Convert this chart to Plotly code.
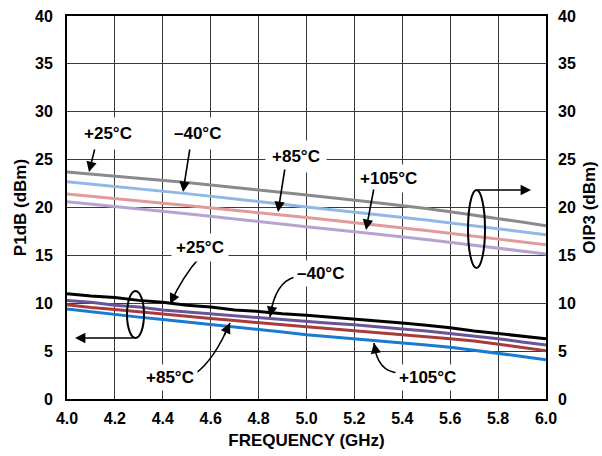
import plotly.graph_objects as go

# ---------------- data ----------------
freq_p1 = [4.0, 4.1, 4.2, 4.3, 4.4, 4.5, 4.6, 4.7, 4.8, 4.9, 5.0,
           5.1, 5.2, 5.3, 5.4, 5.5, 5.6, 5.7, 5.8, 5.9, 6.0]
p1db_25 = [11.0, 10.75, 10.6, 10.3, 10.1, 9.8, 9.6, 9.3, 9.15, 8.9, 8.75,
           8.55, 8.4, 8.15, 7.95, 7.7, 7.45, 7.1, 6.85, 6.55, 6.3]
p1db_m40 = [10.3, 10.1, 9.8, 9.6, 9.3, 9.1, 8.9, 8.65, 8.45, 8.25, 8.05,
            7.9, 7.75, 7.5, 7.3, 7.1, 6.85, 6.6, 6.3, 5.95, 5.65]
p1db_85 = [9.85, 9.55, 9.35, 9.1, 8.85, 8.65, 8.4, 8.2, 7.95, 7.75, 7.55,
           7.35, 7.15, 6.95, 6.75, 6.55, 6.3, 6.05, 5.7, 5.35, 5.05]
p1db_105 = [9.4, 9.1, 8.85, 8.55, 8.3, 8.05, 7.8, 7.55, 7.3, 7.0, 6.7,
            6.5, 6.3, 6.1, 5.9, 5.65, 5.4, 5.1, 4.8, 4.45, 4.1]

freq_ip3 = [4.0, 4.5, 5.0, 5.5, 6.0]
oip3_25 = [23.7, 22.6, 21.3, 19.9, 18.1]
oip3_m40 = [22.7, 21.45, 20.05, 18.7, 17.15]
oip3_85 = [21.4, 20.2, 18.95, 17.6, 16.1]
oip3_105 = [20.6, 19.35, 18.0, 16.65, 15.15]

x_ticks = [4.0, 4.2, 4.4, 4.6, 4.8, 5.0, 5.2, 5.4, 5.6, 5.8, 6.0]
x_ticktext = ["4.0", "4.2", "4.4", "4.6", "4.8", "5.0", "5.2", "5.4", "5.6", "5.8", "6.0"]
y_ticks = [0, 5, 10, 15, 20, 25, 30, 35, 40]

# ---------------- layout geometry (pixels) ----------------
W, H = 602, 456
PX0, PX1 = 67, 546
PY0, PY1 = 16, 399
L, R = PX0, W - PX1
T, B = PY0, H - PY1


def X(px):
    return 4.0 + (px - PX0) / (PX1 - PX0) * 2.0


def Y(py):
    return (PY1 - py) / (PY1 - PY0) * 40.0


FONT = "Liberation Sans, Arial, Helvetica, sans-serif"

fig = go.Figure()

oip3_colors = ["#8a8a8a", "#8fb8e6", "#e29a9a", "#b7a3cf"]
for ys, c in zip([oip3_25, oip3_m40, oip3_85, oip3_105], oip3_colors):
    fig.add_trace(go.Scatter(x=freq_ip3, y=ys, mode="lines", yaxis="y2",
                             line=dict(color=c, width=3, shape="spline", smoothing=0.6),
                             hoverinfo="skip", showlegend=False))

for ys, c in zip([p1db_105, p1db_85, p1db_m40, p1db_25],
                 ["#1a7ad2", "#a83c3c", "#6a5497", "#000000"]):
    fig.add_trace(go.Scatter(x=freq_p1, y=ys, mode="lines",
                             line=dict(color=c, width=3),
                             hoverinfo="skip", showlegend=False))

annotations = []
shapes = []

lab_font = dict(family=FONT, size=17, color="black", weight="bold")


def label(text, cx, cy, pad=5):
    annotations.append(dict(x=X(cx), y=Y(cy), xref="x", yref="y", text=text,
                            showarrow=False, font=lab_font, bgcolor="white",
                            borderpad=pad, xanchor="center", yanchor="middle"))


def arrow(x0, y0, x1, y1):
    annotations.append(dict(x=X(x1), y=Y(y1), ax=X(x0), ay=Y(y0), xref="x", yref="y",
                            axref="x", ayref="y", text="", showarrow=True,
                            arrowhead=2, arrowsize=1.3, arrowwidth=1.6,
                            arrowcolor="black", standoff=0, startstandoff=0))


def curved(p0, c, p1):
    path = "M {},{} Q {},{} {},{}".format(X(p0[0]), Y(p0[1]), X(c[0]), Y(c[1]),
                                           X(p1[0]), Y(p1[1]))
    shapes.append(dict(type="path", path=path, xref="x", yref="y",
                       line=dict(color="black", width=1.6)))
    t = 0.8
    bx = (1 - t) ** 2 * p0[0] + 2 * (1 - t) * t * c[0] + t ** 2 * p1[0]
    by = (1 - t) ** 2 * p0[1] + 2 * (1 - t) * t * c[1] + t ** 2 * p1[1]
    arrow(bx, by, p1[0], p1[1])


# upper (OIP3) labels
label("+25°C", 108, 133, pad=6)
arrow(95, 148, 89, 172)
label("–40°C", 197, 133, pad=6)
arrow(190, 148, 183, 192)
label("+85°C", 296, 156, pad=6)
arrow(285, 168, 278, 212)
label("+105°C", 388, 178, pad=4)
arrow(374, 188, 366, 230)

# lower (P1dB) labels
label("+25°C", 200, 247, pad=4)
curved((200, 257), (183, 276), (170, 304))
label("–40°C", 320, 273, pad=3)
curved((295, 277), (275, 282), (270, 317))
label("+85°C", 170, 377, pad=3)
curved((196, 373), (214, 360), (230, 323))
label("+105°C", 427, 377, pad=3)
curved((399, 373), (377, 372), (374, 343))

# ellipses and axis-pointer arrows
shapes.append(dict(type="circle", xref="x", yref="y", x0=X(468), x1=X(485), y0=Y(190), y1=Y(268),
                   line=dict(color="black", width=2)))
arrow(476, 190, 531, 190)
shapes.append(dict(type="circle", xref="x", yref="y", x0=X(127), x1=X(144), y0=Y(291), y1=Y(338),
                   line=dict(color="black", width=2)))
arrow(135, 338, 75, 338)

tick_font = dict(family=FONT, size=16, color="black", weight="bold")
title_font = dict(family=FONT, size=17, color="black", weight="bold")

fig.update_layout(
    width=W, height=H,
    margin=dict(l=L, r=R, t=T, b=B),
    paper_bgcolor="white", plot_bgcolor="white",
    showlegend=False,
    annotations=annotations,
    shapes=shapes,
    xaxis=dict(range=[4.0, 6.0], tickvals=x_ticks, ticktext=x_ticktext,
               showgrid=True, gridcolor="#3a3a3a", gridwidth=1.3,
               showline=True, linecolor="black", linewidth=2, mirror=True,
               ticks="", tickfont=tick_font, zeroline=False, automargin=False,
               ticklabelstandoff=4,
               title=dict(text="FREQUENCY (GHz)", font=title_font, standoff=8)),
    yaxis=dict(range=[0, 40], tickvals=y_ticks,
               showgrid=True, gridcolor="#3a3a3a", gridwidth=1.3,
               showline=True, linecolor="black", linewidth=2, mirror=True,
               ticks="", tickfont=tick_font, zeroline=False, automargin=False,
               ticklabelstandoff=9, ticklabeloverflow="allow",
               title=dict(text="P1dB (dBm)", font=title_font, standoff=4)),
    yaxis2=dict(range=[0, 40], tickvals=y_ticks, overlaying="y", side="right",
                showgrid=False, showline=False, ticks="", tickfont=tick_font,
                zeroline=False, automargin=False, ticklabelstandoff=11,
                ticklabeloverflow="allow",
                title=dict(text="OIP3 (dBm)", font=title_font, standoff=8)),
)

fig.write_html("out.html", config={"displayModeBar": False})

# remove the default page margin so the figure sits at the window's corner
with open("out.html", "r", encoding="utf-8") as f:
    html = f.read()
html = html.replace("<body>", '<body style="margin:0;padding:0;">', 1)
html = html.replace("<head>", '<head><style>html,body{margin:0;padding:0;overflow:hidden;}</style>', 1)
with open("out.html", "w", encoding="utf-8") as f:
    f.write(html)
